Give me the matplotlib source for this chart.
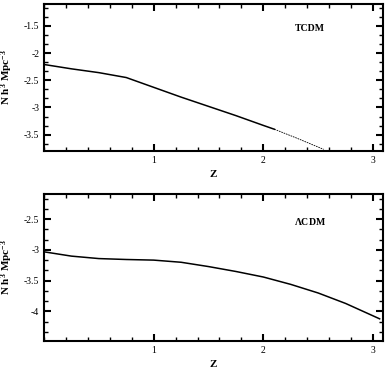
import numpy as np
import matplotlib
matplotlib.use("Agg")
import matplotlib.pyplot as plt
from matplotlib.ticker import AutoMinorLocator, MultipleLocator

plt.rcParams['font.family'] = ['Liberation Serif', 'DejaVu Serif']
plt.rcParams['mathtext.default'] = 'regular'

# TCDM curve (redshift z, log N)
z_tcdm = [0.0, 0.25, 0.5, 0.75, 1.0, 1.25, 1.5, 1.75, 2.0, 2.1]
n_tcdm = [-2.21, -2.29, -2.36, -2.45, -2.63, -2.81, -2.98, -3.15, -3.33, -3.40]
# faint tail of the TCDM curve
z_tcdm_tail = [2.1, 2.3, 2.55]
n_tcdm_tail = [-3.40, -3.56, -3.77]

# LambdaCDM curve
z_lcdm = [0.0, 0.25, 0.5, 0.75, 1.0, 1.25, 1.5, 1.75, 2.0, 2.25, 2.5, 2.75, 3.06]
n_lcdm = [-3.03, -3.10, -3.14, -3.155, -3.165, -3.20, -3.27, -3.35, -3.44, -3.56, -3.70, -3.87, -4.12]

xticks = [1, 2, 3]
yticks_top = [-1.5, -2, -2.5, -3, -3.5]
yticks_bot = [-2.5, -3, -3.5, -4]

fig = plt.figure(figsize=(3.86, 3.71), dpi=100)
ax1 = fig.add_axes([0.114, 0.593, 0.878, 0.396])
ax2 = fig.add_axes([0.114, 0.081, 0.878, 0.396])

ax1.plot(z_tcdm, n_tcdm, color='black', lw=1.1)
ax1.plot(z_tcdm_tail, n_tcdm_tail, color='black', lw=0.6, ls=(0, (2, 1)))
ax2.plot(z_lcdm, n_lcdm, color='black', lw=1.1)

ax1.set_ylim(-3.8, -1.1)
ax2.set_ylim(-4.48, -2.09)
ax1.set_yticks(yticks_top)
ax1.set_yticklabels([str(v) for v in yticks_top])
ax2.set_yticks(yticks_bot)
ax2.set_yticklabels([str(v) for v in yticks_bot])

ax1.text(0.785, 0.837, 'TCDM', transform=ax1.transAxes, ha='center', va='center',
         fontsize=7, fontweight='bold')
ax2.text(0.785, 0.81, r'$\Lambda$CDM', transform=ax2.transAxes, ha='center', va='center',
         fontsize=7, fontweight='bold')

for ax in (ax1, ax2):
    ax.set_xlim(0, 3.09)
    ax.set_xticks(xticks)
    ax.set_xticklabels([str(v) for v in xticks])
    ax.xaxis.set_minor_locator(MultipleLocator(0.2))
    ax.yaxis.set_minor_locator(AutoMinorLocator(3))
    ax.tick_params(which='both', direction='in', top=True, right=True, labelsize=7)
    ax.tick_params(which='major', length=5, width=1.5)
    ax.tick_params(which='minor', length=3, width=1)
    for s in ax.spines.values():
        s.set_linewidth(1.5)
    ax.set_xlabel('Z', fontsize=8, fontweight='bold', labelpad=4)
    ax.set_ylabel(r'N h$^3$ Mpc$^{-3}$', fontsize=8, fontweight='bold', labelpad=6)

fig.savefig('out.png', dpi=100)
